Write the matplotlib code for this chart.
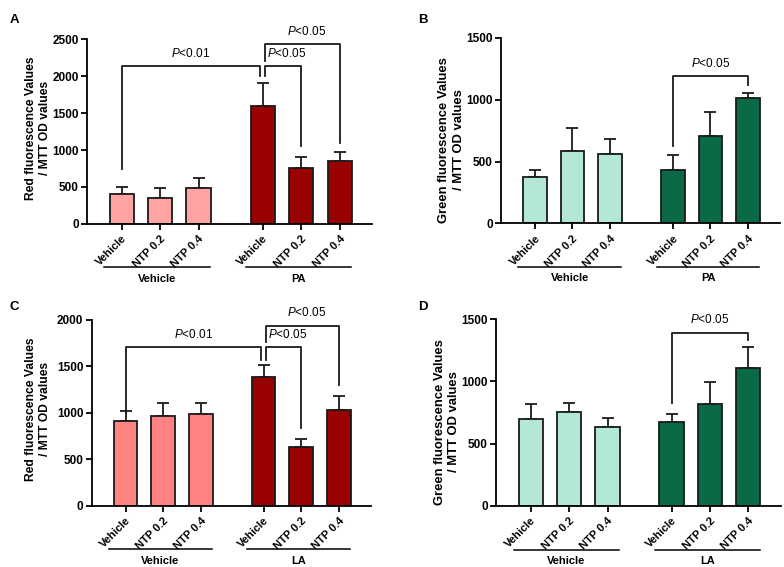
import numpy as np
import matplotlib
matplotlib.use('Agg')
import matplotlib.pyplot as plt

plt.rcParams['font.family'] = ['Liberation Sans', 'DejaVu Sans']
plt.rcParams['mathtext.fontset'] = 'custom'
plt.rcParams['mathtext.it'] = 'Liberation Sans:italic'
plt.rcParams['mathtext.rm'] = 'Liberation Sans'

# bar labels shared by all panels
bar_labels = ['Vehicle', 'NTP 0.2', 'NTP 0.4', 'Vehicle', 'NTP 0.2', 'NTP 0.4']

# Panel A: red fluorescence, PA
a_means = [410, 355, 490, 1592, 755, 854]
a_errs = [90, 125, 130, 315, 145, 117]
# Panel B: green fluorescence, PA
b_means = [372, 584, 560, 436, 708, 1013]
b_errs = [60, 184, 121, 121, 194, 43]
# Panel C: red fluorescence, LA
c_means = [914, 968, 986, 1383, 631, 1025]
c_errs = [107, 136, 114, 126, 89, 158]
# Panel D: green fluorescence, LA
d_means = [696, 753, 632, 672, 820, 1106]
d_errs = [121, 77, 72, 67, 174, 174]

LIGHT_PINK = '#FFA3A3'
PINK = '#FF8282'
DARK_RED = '#990000'
LIGHT_GREEN = '#B3E8D6'
DARK_GREEN = '#0A6A45'

xpos = np.array([0, 1, 2, 3.67, 4.67, 5.67])


def draw_panel(ax, means, errs, light, dark, ymax, ystep, ylabel, ylab_size, ylab_xy, group2, brackets):
    colors = [light] * 3 + [dark] * 3
    ax.bar(xpos, means, width=0.63, color=colors, edgecolor='#1a1a1a', linewidth=1.3, zorder=2)
    ax.errorbar(xpos, means, yerr=[np.zeros(6), errs], fmt='none', ecolor='#1a1a1a',
                elinewidth=1.3, capsize=4, capthick=1.3, zorder=1)
    ax.set_xlim(-0.9, 6.52)
    ax.set_ylim(0, ymax)
    ax.set_yticks(np.arange(0, ymax + 1, ystep))
    ax.set_xticks(xpos)
    ax.set_xticklabels(bar_labels, rotation=45, ha='right', rotation_mode='anchor',
                       fontsize=8, fontweight='bold')
    for lab in ax.get_yticklabels():
        lab.set_fontweight('bold')
        lab.set_fontsize(8.5)
    ax.tick_params(direction='out', length=4, width=1.3, pad=2)
    ax.tick_params(axis='x', pad=3)
    for s in ['top', 'right']:
        ax.spines[s].set_visible(False)
    for s in ['left', 'bottom']:
        ax.spines[s].set_linewidth(1.3)
    ax.set_ylabel(ylabel, fontsize=ylab_size, fontweight='bold', linespacing=1.25)
    ax.yaxis.set_label_coords(*ylab_xy)

    # group lines under the tick labels
    trans = ax.get_xaxis_transform()
    for (x0, x1, name) in [(-0.45, 2.3, 'Vehicle'), (3.24, 5.97, group2)]:
        ax.plot([x0, x1], [-0.235, -0.235], color='black', lw=1.1, transform=trans, clip_on=False)
        ax.text((x0 + x1) / 2, -0.27, name, transform=trans, ha='center', va='top',
                fontsize=8, fontweight='bold')

    # significance brackets
    for (x0, x1, ytop, yl, yr, txt, tx) in brackets:
        ax.plot([x0, x0, x1, x1], [yl, ytop, ytop, yr], color='#1a1a1a', lw=1.3, clip_on=False)
        ax.text(tx, ytop + ymax * 0.035, txt, ha='center', va='bottom', fontsize=8.5)


fig = plt.figure(figsize=(7.84, 5.67), dpi=100)
axA = fig.add_axes([0.111, 0.605, 0.364, 0.326])
axB = fig.add_axes([0.639, 0.606, 0.356, 0.327])
axC = fig.add_axes([0.117, 0.108, 0.356, 0.328])
axD = fig.add_axes([0.633, 0.108, 0.363, 0.329])

red_label = 'Red fluorescence Values\n/ MTT OD values'
green_label = 'Green fluorescence Values\n/ MTT OD values'

draw_panel(axA, a_means, a_errs, LIGHT_PINK, DARK_RED, 2500, 500, red_label, 8.7, (-0.125, 0.52), 'PA', [
    (xpos[0], xpos[3] - 0.06, 2136, 745, 2005, '$\\it{P}$<0.01', 1.8),
    (xpos[3] + 0.06, xpos[4], 2136, 2005, 1048, '$\\it{P}$<0.05', 4.3),
    (xpos[3] + 0.06, xpos[5], 2428, 2200, 1093, '$\\it{P}$<0.05', 4.82),
])
draw_panel(axB, b_means, b_errs, LIGHT_GREEN, DARK_GREEN, 1500, 500, green_label, 9.4, (-0.13, 0.45), 'PA', [
    (xpos[3], xpos[5], 1190, 628, 1118, '$\\it{P}$<0.05', 4.67),
])
draw_panel(axC, c_means, c_errs, PINK, DARK_RED, 2000, 500, red_label, 8.7, (-0.145, 0.52), 'LA', [
    (xpos[0], xpos[3] - 0.06, 1703, 1000, 1570, '$\\it{P}$<0.01', 1.8),
    (xpos[3] + 0.06, xpos[4], 1703, 1570, 835, '$\\it{P}$<0.05', 4.3),
    (xpos[3] + 0.06, xpos[5], 1935, 1760, 1301, '$\\it{P}$<0.05', 4.82),
])
draw_panel(axD, d_means, d_errs, LIGHT_GREEN, DARK_GREEN, 1500, 500, green_label, 9.4, (-0.128, 0.45), 'LA', [
    (xpos[3], xpos[5], 1393, 825, 1334, '$\\it{P}$<0.05', 4.67),
])

for txt, x, y in [('A', 0.012, 0.975), ('B', 0.533, 0.975), ('C', 0.012, 0.47), ('D', 0.533, 0.47)]:
    fig.text(x, y, txt, fontsize=9.5, fontweight='bold', va='top')

fig.savefig('out.png', dpi=100)
